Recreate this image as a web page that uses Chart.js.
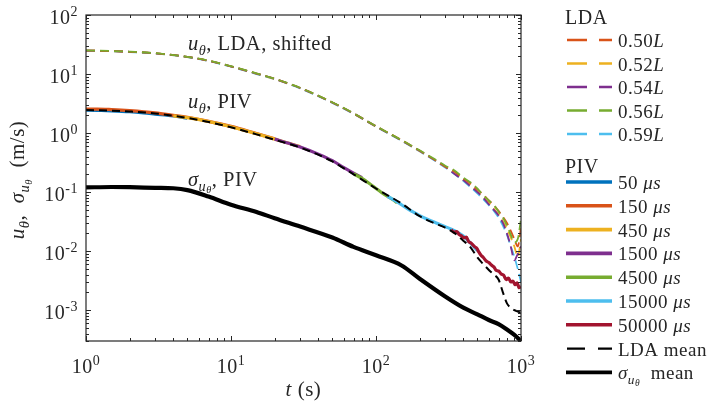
<!DOCTYPE html>
<html>
<head>
<meta charset="utf-8">
<script src="https://cdn.jsdelivr.net/npm/chart.js@4.4.0/dist/chart.umd.min.js"></script>
<style>
    html, body { margin: 0; padding: 0; background: #fff; }
    #wrap { width: 707px; height: 404px; position: relative; }
</style>
</head>
<body>
<div id="wrap"><canvas id="myChart"></canvas></div>
<script>
// ---- данные ----
// LDA, сдвинутые вверх (t в секундах)
const tLDA = [1, 1.5, 2, 3, 5, 7, 10, 15, 20, 30, 50, 70, 100, 150, 200, 250, 300, 350, 400, 450, 500, 550, 600, 650, 700, 750, 800, 850, 900, 950, 1000];
const lda050 = [25, 24.5, 23.8, 22.5, 19.5, 16.8, 13.5, 10.2, 8.3, 5.8, 3.3, 2.15, 1.3, 0.76, 0.5, 0.36, 0.27, 0.22, 0.17, 0.14, 0.11, 0.09, 0.072, 0.06, 0.048, 0.038, 0.03, 0.022, 0.016, 0.012, 0.025];
const lda052 = [25, 24.4, 23.7, 22.4, 19.4, 16.7, 13.4, 10.1, 8.2, 5.75, 3.28, 2.13, 1.29, 0.75, 0.49, 0.355, 0.265, 0.21, 0.16, 0.13, 0.1, 0.08, 0.066, 0.052, 0.042, 0.032, 0.024, 0.017, 0.012, 0.008, 0.016];
const lda054 = [25, 24.5, 23.8, 22.5, 19.5, 16.8, 13.5, 10.2, 8.3, 5.8, 3.3, 2.15, 1.3, 0.75, 0.5, 0.36, 0.27, 0.2, 0.16, 0.125, 0.1, 0.08, 0.062, 0.05, 0.04, 0.03, 0.02, 0.012, 0.007, 0.009, 0.012];
const lda056 = [25.2, 24.6, 23.9, 22.6, 19.6, 16.9, 13.6, 10.3, 8.35, 5.85, 3.32, 2.17, 1.31, 0.76, 0.51, 0.37, 0.28, 0.23, 0.175, 0.145, 0.115, 0.088, 0.072, 0.06, 0.047, 0.037, 0.027, 0.019, 0.014, 0.016, 0.035];
const lda059 = [24.8, 24.3, 23.6, 22.3, 19.3, 16.6, 13.3, 10.0, 8.2, 5.7, 3.25, 2.12, 1.28, 0.74, 0.49, 0.35, 0.26, 0.2, 0.155, 0.12, 0.095, 0.075, 0.06, 0.048, 0.037, 0.027, 0.019, 0.012, 0.008, 0.005, 0.003];

// PIV, разные интервалы между кадрами
const t50 = [1, 1.2, 1.5, 2, 2.5, 3, 4, 5];
const piv50 = [2.45, 2.42, 2.38, 2.3, 2.2, 2.1, 1.95, 1.78];
const t150 = [1, 1.2, 1.5, 2, 3, 4, 5, 7, 10, 15, 20];
const piv150 = [2.55, 2.55, 2.5, 2.4, 2.2, 2.0, 1.85, 1.58, 1.3, 0.98, 0.8];
const t450 = [4, 5, 7, 10, 15, 20, 25, 30];
const piv450 = [1.95, 1.82, 1.57, 1.28, 0.97, 0.79, 0.67, 0.59];
const t1500 = [20, 25, 30, 40, 50, 60, 70, 80];
const piv1500 = [0.79, 0.67, 0.58, 0.44, 0.34, 0.26, 0.21, 0.175];
const t4500 = [70, 80, 90, 100, 115, 130, 140];
const piv4500 = [0.205, 0.17, 0.14, 0.115, 0.09, 0.075, 0.066];
const t15000 = [120, 140, 160, 180, 200, 230, 260, 300, 350, 400, 450, 500];
const piv15000 = [0.085, 0.068, 0.055, 0.046, 0.04, 0.034, 0.03, 0.026, 0.022, 0.018, 0.0135, 0.0102];
const t50000 = [330, 345, 360, 375, 390, 405, 420, 435, 450, 465, 480, 495, 510, 530, 550, 575, 600, 625, 650, 675, 700, 730, 760, 790, 820, 850, 880, 910, 940, 970, 1000];
const piv50000 = [0.023, 0.021, 0.0215, 0.019, 0.018, 0.0168, 0.0172, 0.0145, 0.0138, 0.0128, 0.0118, 0.0112, 0.0098, 0.0085, 0.0078, 0.0068, 0.0064, 0.0058, 0.0054, 0.0047, 0.0046, 0.0041, 0.0039, 0.0033, 0.0035, 0.003, 0.0031, 0.0027, 0.0029, 0.0024, 0.0025];

// среднее LDA и СКО
const ldaMean = [2.45, 2.4, 2.32, 2.15, 1.8, 1.54, 1.25, 0.95, 0.77, 0.57, 0.33, 0.2, 0.115, 0.064, 0.039, 0.03, 0.025, 0.02, 0.015, 0.0115, 0.0078, 0.006, 0.0048, 0.004, 0.0033, 0.002, 0.0013, 0.0011, 0.001, 0.00095, 0.0009];
const tSig = [1, 1.5, 2, 3, 4, 5, 7, 10, 15, 20, 30, 50, 70, 100, 150, 200, 300, 400, 500, 600, 700, 800, 900, 1000];
const sigMean = [0.12, 0.122, 0.121, 0.118, 0.116, 0.108, 0.084, 0.061, 0.046, 0.036, 0.026, 0.017, 0.0118, 0.0085, 0.0057, 0.0034, 0.0017, 0.0011, 0.00085, 0.00068, 0.00058, 0.00047, 0.00038, 0.0003];

// деления осей
const xMajor = [1, 10, 100, 1000];
const yMajor = [100, 10, 1, 0.1, 0.01, 0.001];

// цвета MATLAB
const C = ['#0072BD', '#D95319', '#EDB120', '#7E2F8E', '#77AC30', '#4DBEEE', '#A2142F'];
const AXC = '#262626';
const SERIF = "'Liberation Serif', 'Times New Roman', serif";

const pts = (t, v) => t.map((x, i) => ({ x: x, y: v[i] }));

const ldaSets = [lda050, lda052, lda054, lda056, lda059];
const ldaColors = [C[1], C[2], C[3], C[4], C[5]];
const ldaNames = ['0.50', '0.52', '0.54', '0.56', '0.59'];
const ldaOrder = [16, 19, 17, 15, 18]; // зелёная и оранжевая сверху

const pivT = [t50, t150, t450, t1500, t4500, t15000, t50000];
const pivV = [piv50, piv150, piv450, piv1500, piv4500, piv15000, piv50000];
const pivNames = ['50', '150', '450', '1500', '4500', '15000', '50000'];

const datasets = [];
ldaSets.forEach((v, i) => {
    datasets.push({
        label: ldaNames[i] + 'L',
        data: pts(tLDA, v),
        borderColor: ldaColors[i],
        borderWidth: 1.8,
        borderDash: [9, 5],
        order: ldaOrder[i]
    });
});
pivV.forEach((v, i) => {
    datasets.push({
        label: pivNames[i] + ' us',
        data: pts(pivT[i], v),
        borderColor: C[i],
        borderWidth: 3.2,
        order: 10 - i
    });
});
datasets.push({
    label: 'LDA mean',
    data: pts(tLDA, ldaMean),
    borderColor: '#000',
    borderWidth: 2,
    borderDash: [8, 5],
    order: 1
});
datasets.push({
    label: 'sigma mean',
    data: pts(tSig, sigMean),
    borderColor: '#000',
    borderWidth: 4.2,
    order: 0
});

// ---- вывод текста с индексами ----
// сегмент: [текст, курсив?, уровень] уровень: 0 обычный, 1 индекс, 2 индекс индекса, -1 степень
function segFont(base, seg) {
    const lvl = seg[2] || 0;
    const size = lvl === 0 ? base : (lvl === 2 ? base * 0.5 : base * 0.7);
    return { font: (seg[1] ? 'italic ' : '') + size.toFixed(1) + 'px ' + SERIF, dy: lvl === 1 ? base * 0.22 : lvl === 2 ? base * 0.36 : lvl === -1 ? -base * 0.42 : 0 };
}
function richWidth(ctx, base, segs) {
    let w = 0;
    segs.forEach(s => { ctx.font = segFont(base, s).font; w += ctx.measureText(s[0]).width; });
    return w;
}
function drawRich(ctx, x, y, base, segs, align) {
    const w = richWidth(ctx, base, segs);
    let cx = align === 'right' ? x - w : align === 'center' ? x - w / 2 : x;
    ctx.textAlign = 'left';
    ctx.textBaseline = 'alphabetic';
    segs.forEach(s => {
        const f = segFont(base, s);
        ctx.font = f.font;
        ctx.fillText(s[0], cx, y + f.dy);
        cx += ctx.measureText(s[0]).width;
    });
}

const decor = {
    id: 'decor',
    afterDatasetsDraw(chart) {
        const ctx = chart.ctx;
        const { left, right, top, bottom } = chart.chartArea;
        const xs = chart.scales.x, ys = chart.scales.y;
        ctx.save();
        ctx.strokeStyle = AXC;
        ctx.fillStyle = AXC;
        ctx.lineWidth = 1.2;
        ctx.strokeRect(left, top, right - left, bottom - top);

        // деления внутрь, как в MATLAB
        ctx.beginPath();
        for (let d = 0; d < 3; d++) {
            for (let m = 1; m <= 10; m++) {
                const v = m * Math.pow(10, d);
                const px = Math.round(xs.getPixelForValue(v)) + 0.5;
                const len = (m === 1 || m === 10) ? 5 : 3;
                ctx.moveTo(px, bottom); ctx.lineTo(px, bottom - len);
                ctx.moveTo(px, top); ctx.lineTo(px, top + len);
            }
        }
        for (let d = -4; d < 2; d++) {
            for (let m = 1; m <= 10; m++) {
                const v = m * Math.pow(10, d);
                if (v < ys.min || v > ys.max) continue;
                const py = Math.round(ys.getPixelForValue(v)) + 0.5;
                const len = (m === 1 || m === 10) ? 5 : 3;
                ctx.moveTo(left, py); ctx.lineTo(left + len, py);
                ctx.moveTo(right, py); ctx.lineTo(right - len, py);
            }
        }
        ctx.lineWidth = 1;
        ctx.stroke();

        ctx.letterSpacing = '0.5px';
        // подписи делений
        xMajor.forEach(v => {
            const px = xs.getPixelForValue(v);
            drawRich(ctx, px, 373, 20, [['10', false, 0], [String(Math.round(Math.log10(v))), false, -1]], 'center');
        });
        yMajor.forEach(v => {
            const py = ys.getPixelForValue(v);
            drawRich(ctx, 78, py + 9, 20, [['10', false, 0], [String(Math.round(Math.log10(v))), false, -1]], 'right');
        });

        // подписи осей
        drawRich(ctx, xs.getPixelForValue(31.6), 396, 21, [['t', true, 0], [' (s)', false, 0]], 'center');
        ctx.save();
        ctx.translate(24, 180);
        ctx.rotate(-Math.PI / 2);
        drawRich(ctx, 0, 0, 21, [['u', true, 0], ['θ', true, 1], [',  ', false, 0], ['σ', true, 0], ['u', true, 1], ['θ', true, 2], ['  (m/s)', false, 0]], 'center');
        ctx.restore();

        // надписи на поле
        drawRich(ctx, 188, 50, 20.5, [['u', true, 0], ['θ', true, 1], [', LDA, shifted', false, 0]], 'left');
        drawRich(ctx, 188, 108, 20.5, [['u', true, 0], ['θ', true, 1], [', PIV', false, 0]], 'left');
        drawRich(ctx, 188, 186, 20.5, [['σ', true, 0], ['u', true, 1], ['θ', true, 2], [', PIV', false, 0]], 'left');

        // легенда
        const lx0 = 567, lx1 = 612, tx = 618;
        drawRich(ctx, 565, 24, 20, [['LDA', false, 0]], 'left');
        ldaNames.forEach((n, i) => {
            const y = 40 + i * 23.5;
            ctx.strokeStyle = ldaColors[i];
            ctx.lineWidth = 2.4;
            ctx.beginPath();
            ctx.moveTo(lx0, y); ctx.lineTo(lx0 + 20, y);
            ctx.moveTo(lx0 + 32, y); ctx.lineTo(lx1, y);
            ctx.stroke();
            ctx.fillStyle = AXC;
            drawRich(ctx, tx, y + 7, 19, [[n, false, 0], ['L', true, 0]], 'left');
        });
        drawRich(ctx, 565, 173, 20, [['PIV', false, 0]], 'left');
        pivNames.forEach((n, i) => {
            const y = 182 + i * 23.8;
            ctx.strokeStyle = C[i];
            ctx.lineWidth = 3.6;
            ctx.beginPath();
            ctx.moveTo(lx0 - 1, y); ctx.lineTo(lx1, y);
            ctx.stroke();
            drawRich(ctx, tx, y + 7, 19, [[n + ' ', false, 0], ['μs', true, 0]], 'left');
        });
        let y = 182 + 7 * 23.8;
        ctx.strokeStyle = '#000';
        ctx.lineWidth = 2.4;
        ctx.beginPath();
        ctx.moveTo(lx0, y); ctx.lineTo(lx0 + 18, y);
        ctx.moveTo(lx0 + 31, y); ctx.lineTo(lx1, y);
        ctx.stroke();
        drawRich(ctx, tx, y + 7, 19, [['LDA mean', false, 0]], 'left');
        y += 23.8;
        ctx.lineWidth = 3.6;
        ctx.beginPath();
        ctx.moveTo(lx0 - 1, y); ctx.lineTo(lx1, y);
        ctx.stroke();
        drawRich(ctx, tx, y + 7, 19, [['σ', true, 0], ['u', true, 1], ['θ', true, 2], ['  mean', false, 0]], 'left');
        ctx.restore();
    }
};

const ctx = document.getElementById('myChart').getContext('2d');
const myChart = new Chart(ctx, {
    type: 'line',
    data: { datasets: datasets },
    options: {
        responsive: true,
        maintainAspectRatio: false,
        animation: false,
        layout: { padding: { left: 86, right: 186, top: 15, bottom: 63 } },
        elements: {
            point: { radius: 0 },
            line: { cubicInterpolationMode: 'monotone', borderCapStyle: 'butt' }
        },
        plugins: { legend: { display: false }, tooltip: { enabled: false } },
        scales: {
            x: { type: 'logarithmic', min: 1, max: 1000, display: false },
            y: { type: 'logarithmic', min: 3.16e-4, max: 100, display: false }
        }
    },
    plugins: [decor]
});
</script>
</body>
</html>
